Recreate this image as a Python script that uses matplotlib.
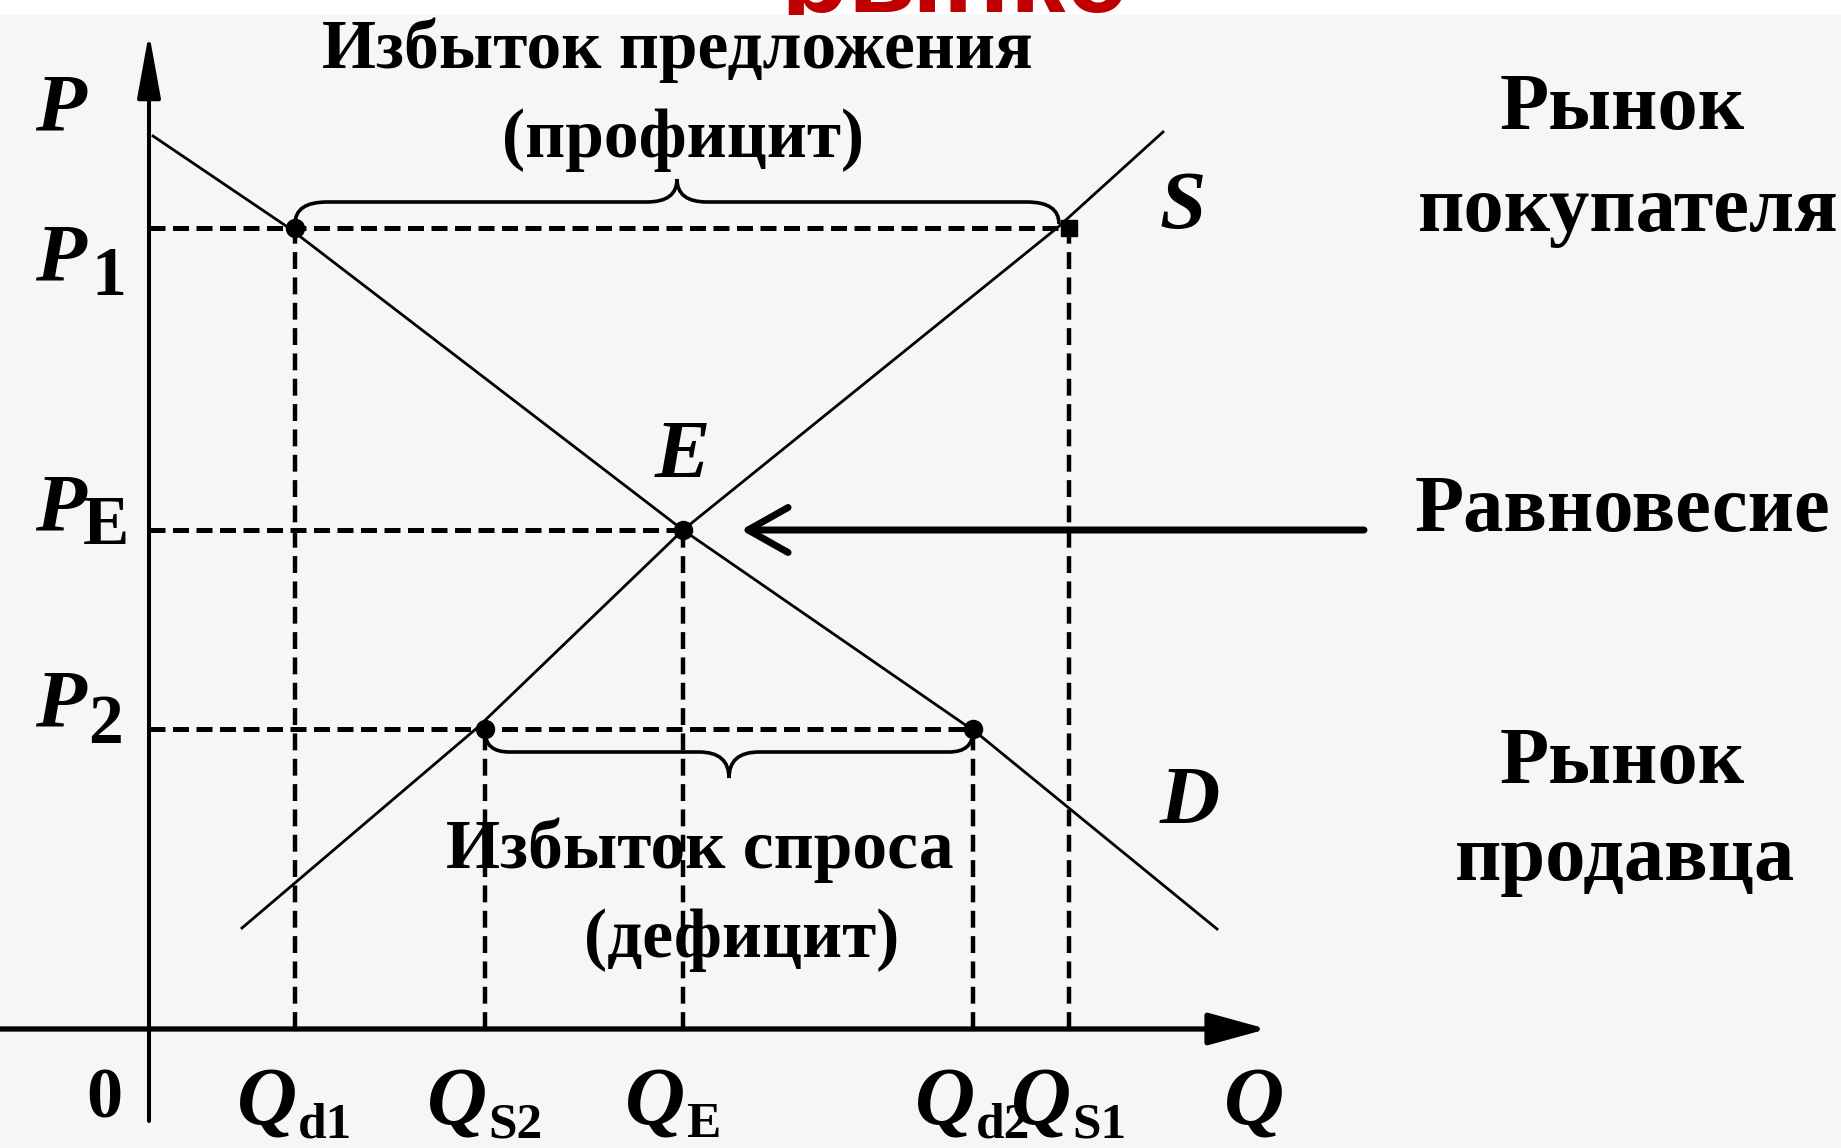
import matplotlib
matplotlib.use('Agg')
import matplotlib.pyplot as plt
from matplotlib.path import Path
from matplotlib.patches import PathPatch, Rectangle
from matplotlib.transforms import Bbox, TransformedBbox

plt.rcParams['font.family'] = ['Liberation Serif', 'DejaVu Serif']

# quantities and prices (origin at the axes crossing)
q_names = ['d1', 'S2', 'E', 'd2', 'S1']
q_vals = [146, 336, 534, 824, 920]
p_names = ['1', 'E', '2']
p_vals = [801, 499, 300]

# demand and supply curves
demand_q = [4, 140, 534, 828, 1068]
demand_p = [893, 801, 499, 296, 100]
supply_q = [93, 328, 534, 908, 1014]
supply_p = [101, 301, 499, 801, 897]

right_labels = ['Рынок', 'покупателя', 'Равновесие', 'Рынок', 'продавца']

Q = dict(zip(q_names, q_vals))
P = dict(zip(p_names, p_vals))

fig = plt.figure(figsize=(18.41, 11.48), dpi=100)
fig.patch.set_facecolor('white')
# slide title, cut off above the picture
title = fig.text(781 / 1841, 1 - 12 / 1148, 'рынке', color='#c00000', fontsize=80,
                 fontweight='bold', family='Liberation Sans', va='baseline', zorder=0.5)
title.set_clip_box(TransformedBbox(Bbox([[0, 1 - 15 / 1148], [1, 1]]), fig.transFigure))
title.set_clip_on(True)
fig.add_artist(Rectangle((0, 0), 1, 1 - 15 / 1148, transform=fig.transFigure,
                         facecolor='#f6f6f6', edgecolor='none', zorder=1))

ax = fig.add_axes([0, 0, 1, 1], zorder=2)
ax.set_xlim(-149, 1692)
ax.set_ylim(-119, 1029)
ax.axis('off')

# axes with arrows
ax.annotate('', xy=(0, 996), xytext=(0, -92),
            arrowprops=dict(arrowstyle='-|>,head_length=2.2,head_width=0.4',
                            lw=2.9, color='k', mutation_scale=18, shrinkA=0, shrinkB=0))
ax.annotate('', xy=(1118, 0), xytext=(-149, 0),
            arrowprops=dict(arrowstyle='-|>,head_length=2.0,head_width=0.55',
                            lw=3.8, color='k', mutation_scale=18, shrinkA=0, shrinkB=0))

# dashed guides
hdash = (3.2, 1.5)
vdash = (3.8, 1.9)
for p, q_end in [(P['1'], Q['S1']), (P['E'], Q['E']), (P['2'], Q['d2'])]:
    ax.plot([0, q_end], [p, p], color='k', lw=3.6, dashes=hdash, solid_capstyle='butt')
for q, p_end in [(Q['d1'], P['1']), (Q['S2'], P['2']), (Q['E'], P['E']),
                 (Q['d2'], P['2']), (Q['S1'], P['1'])]:
    ax.plot([q, q], [0, p_end], color='k', lw=3.2, dashes=vdash)

# curves
ax.plot(demand_q, demand_p, color='k', lw=2.0)
ax.plot(supply_q, supply_p, color='k', lw=2.0)

# points
ax.plot([Q['d1'], Q['E'], Q['S2'], Q['d2']], [P['1'], P['E'], P['2'], P['2']],
        'o', color='k', ms=13)
ax.plot([Q['S1']], [P['1']], 's', color='k', ms=11)


def brace(x0, x1, y_end, y_flat, y_tip, r, rm):
    xm = (x0 + x1) / 2
    verts = [(x0, y_end), (x0, y_flat), (x0 + r, y_flat),
             (xm - rm, y_flat), (xm, y_flat), (xm, y_tip),
             (xm, y_flat), (xm + rm, y_flat),
             (x1 - r, y_flat), (x1, y_flat), (x1, y_end)]
    codes = [Path.MOVETO, Path.CURVE3, Path.CURVE3, Path.LINETO,
             Path.CURVE3, Path.CURVE3, Path.CURVE3, Path.CURVE3,
             Path.LINETO, Path.CURVE3, Path.CURVE3]
    ax.add_patch(PathPatch(Path(verts, codes), fill=False, lw=2.6, color='k'))


brace(Q['d1'], Q['S1'] - 10, P['1'] + 4, P['1'] + 26, P['1'] + 49, 32, 30)
brace(Q['S2'], Q['d2'], P['2'] - 2, P['2'] - 23, P['2'] - 49, 24, 30)

# equilibrium arrow
ax.annotate('', xy=(592, P['E']), xytext=(1215, P['E']),
            arrowprops=dict(arrowstyle='->,head_length=1.6,head_width=0.9',
                            lw=5, color='k', mutation_scale=18, shrinkA=0, shrinkB=0))

# labels on the axes
big = dict(style='italic', weight='bold', fontsize=60, va='baseline')
ax.text(-114, 899, 'P', ha='left', **big)
for name, base, sub_base, sub_x in [('1', 749, 734, -58), ('E', 499, 485, -66),
                                    ('2', 303, 286, -61)]:
    ax.text(-114, base, 'P', ha='left', **big)
    ax.text(sub_x, sub_base, name, ha='left', va='baseline', weight='bold', fontsize=50)

for name, q in zip(q_names, q_vals):
    ax.text(q + 2, -96, 'Q', ha='right', **big)
    ax.text(q + 3, -108, name, ha='left', va='baseline', weight='bold', fontsize=37)
ax.text(1105, -96, 'Q', ha='center', **big)
ax.text(-45, -88, '0', ha='center', va='baseline', weight='bold', fontsize=52)

ax.text(Q['E'] - 1, 552, 'E', ha='center', **big)
ax.text(1034, 801, 'S', ha='center', **big)
ax.text(1041, 206, 'D', ha='center', **big)

# annotations of surplus / shortage
mid = dict(ha='center', va='baseline', weight='bold', fontsize=50)
ax.text(528, 961, 'Избыток предложения', **mid)
ax.text(534, 872, '(профицит)', **mid)
ax.text(551, 161, 'Избыток спроса', **mid)
ax.text(593, 72, '(дефицит)', **mid)

# market side labels
for text, q, p in zip(right_labels, [1473, 1479, 1474, 1473, 1476],
                      [900, 798, 498, 246, 149]):
    ax.text(q, p, text, ha='center', va='baseline', weight='bold', fontsize=58)

fig.savefig('out.png', dpi=100, facecolor=fig.get_facecolor())
